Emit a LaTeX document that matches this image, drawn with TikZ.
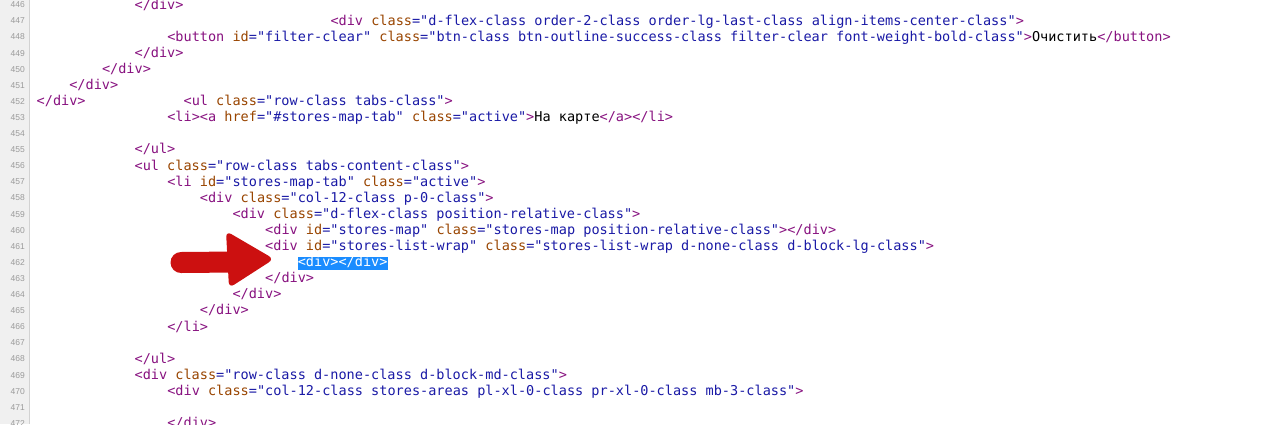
\documentclass[tikz,border=0pt]{standalone}
\usepackage{fontspec}
\newfontfamily\codefont{DejaVu Sans Mono}[WordSpace={1,0,0}]
\newfontfamily\numfont{Liberation Sans}
\definecolor{tagcol}{HTML}{881280}
\definecolor{attcol}{HTML}{994500}
\definecolor{valcol}{HTML}{1A1AA6}
\definecolor{numgray}{HTML}{9A9A9A}
\definecolor{gutter}{HTML}{F0F0F0}
\definecolor{gutterline}{HTML}{D2D2D2}
\definecolor{selblue}{HTML}{1A8CFF}
\definecolor{arrowred}{HTML}{CC1010}
\newcommand{\tg}[1]{\textcolor{tagcol}{#1}}
\newcommand{\at}[1]{\textcolor{attcol}{#1}}
\newcommand{\vl}[1]{\textcolor{valcol}{#1}}
\frenchspacing

\tikzset{
  code/.style={anchor=base west, inner sep=0pt, font=\codefont\fontsize{13.55}{16}\selectfont},
  lnum/.style={anchor=base east, inner sep=0pt, text=numgray, font=\numfont\fontsize{8.5}{10}\selectfont}
}

\begin{document}
\begin{tikzpicture}[x=1pt, y=-1pt]
                \useasboundingbox (0,0) rectangle (1280,424);
                \clip (0,0) rectangle (1280,424);
                \fill[white] (0,0) rectangle (1280,424);

                % Gutter with line numbers
                \fill[gutter] (0,0) rectangle (29.5,424);
                \draw[gutterline] (29.5,0) -- (29.5,424);
                \foreach \n in {446,...,472}
                    \node[lnum] (n\n) at (25, {7.7+16.1*(\n-446)}) {\n};

                % Define code lines
                \node[code] (l446) at (134.4,9) {\tg{</div>}};
                \node[code] (l447) at (330.3,25.1) {\tg{<div} \at{class}\vl{="d-flex-class order-2-class order-lg-last-class align-items-center-class"}\tg{>}};
                \node[code] (l448) at (167.1,41.2) {\tg{<button} \at{id}\vl{="filter-clear"} \at{class}\vl{="btn-class btn-outline-success-class filter-clear font-weight-bold-class"}\tg{>}Очистить\tg{</button>}};
                \node[code] (l449) at (134.4,57.3) {\tg{</div>}};
                \node[code] (l450) at (101.8,73.4) {\tg{</div>}};
                \node[code] (l451) at (69.1,89.5) {\tg{</div>}};
                \node[code] (l452a) at (36.5,105.6) {\tg{</div>}};
                \node[code] (l452b) at (183.4,105.6) {\tg{<ul} \at{class}\vl{="row-class tabs-class"}\tg{>}};
                \node[code] (l453) at (167.1,121.7) {\tg{<li><a} \at{href}\vl{="\#stores-map-tab"} \at{class}\vl{="active"}\tg{>}На карте\tg{</a></li>}};
                \node[code] (l455) at (134.4,153.9) {\tg{</ul>}};
                \node[code] (l456) at (134.4,170.0) {\tg{<ul} \at{class}\vl{="row-class tabs-content-class"}\tg{>}};
                \node[code] (l457) at (167.1,186.1) {\tg{<li} \at{id}\vl{="stores-map-tab"} \at{class}\vl{="active"}\tg{>}};
                \node[code] (l458) at (199.7,202.2) {\tg{<div} \at{class}\vl{="col-12-class p-0-class"}\tg{>}};
                \node[code] (l459) at (232.3,218.3) {\tg{<div} \at{class}\vl{="d-flex-class position-relative-class"}\tg{>}};
                \node[code] (l460) at (265.0,234.4) {\tg{<div} \at{id}\vl{="stores-map"} \at{class}\vl{="stores-map position-relative-class"}\tg{></div>}};
                \node[code] (l461) at (265.0,250.5) {\tg{<div} \at{id}\vl{="stores-list-wrap"} \at{class}\vl{="stores-list-wrap d-none-class d-block-lg-class"}\tg{>}};
                \node[code, fill=selblue, text=white, text height=10pt, text depth=3.5pt] (l462) at (297.6,266.6) {<div></div>};
                \node[code] (l463) at (265.0,282.7) {\tg{</div>}};
                \node[code] (l464) at (232.3,298.8) {\tg{</div>}};
                \node[code] (l465) at (199.7,314.9) {\tg{</div>}};
                \node[code] (l466) at (167.1,331.0) {\tg{</li>}};
                \node[code] (l468) at (134.4,363.2) {\tg{</ul>}};
                \node[code] (l469) at (134.4,379.3) {\tg{<div} \at{class}\vl{="row-class d-none-class d-block-md-class"}\tg{>}};
                \node[code] (l470) at (167.1,395.4) {\tg{<div} \at{class}\vl{="col-12-class stores-areas pl-xl-0-class pr-xl-0-class mb-3-class"}\tg{>}};
                \node[code] (l472) at (167.1,427.6) {\tg{</div>}};

                % Red arrow pointing at the selected line
                \coordinate (tail) at (181,262.5);
                \coordinate (tip) at (274,259);
                \draw[arrowred, line width=21pt, line cap=round] (tail) -- (236,262);
                \fill[arrowred, rounded corners=6pt] (226,231) -- (tip) -- (229,288) -- cycle;
            \end{tikzpicture}
\end{document}
